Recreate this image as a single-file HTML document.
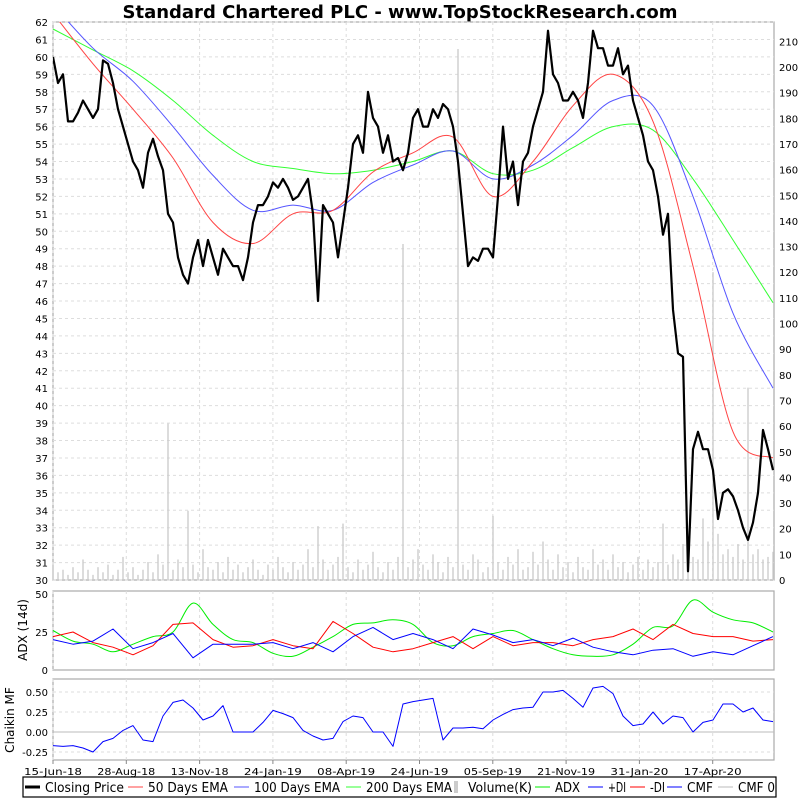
<!DOCTYPE html>
<html><head><meta charset="utf-8"><style>
body{margin:0;background:#fff;}
svg{display:block;font-family:"DejaVu Sans","Liberation Sans",sans-serif;}
</style></head><body>
<svg id="c" width="800" height="800" viewBox="0 0 800 800"></svg>
<script>
const price=[60,58.5,59,56.3,56.3,56.8,57.5,57,56.5,57,59.8,59.6,58.5,57,56,55,54,53.5,52.5,54.5,55.3,54.3,53.5,51,50.5,48.5,47.5,47,48.5,49.5,48,49.5,48.5,47.5,49,48.5,48,48,47.2,48.5,50.5,51.5,51.5,52,52.8,52.5,53,52.5,51.8,52,52.5,53,51,46,51.5,51,50.5,48.5,50.5,52.5,55,55.5,54.5,58,56.5,56,54.5,55.5,54,54.2,53.5,54.5,56.5,57,56,56,57,56.5,57.3,57,56,54,51,48,48.5,48.3,49,49,48.5,52,56,53,54,51.5,54,54.5,56,57,58,61.5,59,58.5,57.5,57.5,58,57.5,56.5,58.5,61.5,60.5,60.5,59.5,59.5,60.5,59,59.5,57.5,56.5,55.5,54,53.5,52,49.8,51,45.5,43,42.8,30.5,37.5,38.5,37.5,37.5,36.3,33.5,35,35.2,34.8,34,33,32.3,33.3,35,38.6,37.5,36.3];
const ema50=[62.5,59.6,57,54.2,50.5,49.3,51,51.2,53.4,54.5,55.4,52,54,57.2,59,56.3,48,38.5,37];
const ema100=[63,60.5,58.6,56,53.2,51.2,51.5,51.2,52.8,53.8,54.6,53,53.8,55.5,57.5,57.2,52,45.3,41];
const ema200=[61.6,60.4,59.2,57.5,55.5,54,53.6,53.3,53.5,54,54.6,53.3,53.5,54.8,56,55.8,53,49.5,45.9];
const volume=[6,3,4,2,5,3,8,4,2,5,3,6,2,4,9,3,5,2,4,7,3,10,6,61,4,8,5,27,6,3,12,5,4,7,3,9,4,6,3,5,8,4,2,6,4,9,5,3,7,4,6,12,5,21,8,4,6,9,22,5,3,8,4,6,11,5,3,7,4,9,131,5,8,12,6,4,10,7,3,9,5,207,6,4,10,8,3,5,25,7,4,9,6,12,4,5,11,6,15,8,4,10,5,7,3,9,5,4,12,6,8,4,10,5,7,3,6,9,4,8,5,7,22,6,10,8,14,12,9,8,24,15,120,18,10,12,9,14,8,75,10,12,8,9,11];
const adx=[26,19,17,12,17,22,25,44,30,20,18,11,9,15,22,30,31,33,30,18,16,22,24,26,20,14,10,9,10,17,28,29,46,38,33,31,25];
const plusDI=[20,17,19,27,14,18,24,8,17,17,17,18,14,18,12,22,28,20,24,20,14,27,23,18,20,16,21,15,12,10,13,14,9,12,10,16,22];
const minusDI=[22,25,18,15,10,16,30,31,20,15,16,20,16,14,32,24,15,12,14,18,22,14,22,16,18,18,16,20,22,27,20,30,24,22,22,19,20];
const cmf=[-0.17,-0.18,-0.17,-0.2,-0.25,-0.12,-0.08,0.02,0.08,-0.1,-0.12,0.2,0.37,0.4,0.3,0.15,0.2,0.33,0,0,0,0.12,0.27,0.23,0.18,0.02,-0.05,-0.1,-0.08,0.13,0.2,0.18,0,0,-0.18,0.35,0.38,0.4,0.42,-0.1,0.05,0.05,0.06,0.04,0.15,0.22,0.28,0.3,0.31,0.5,0.5,0.52,0.42,0.31,0.55,0.57,0.48,0.2,0.08,0.1,0.25,0.1,0.2,0.18,0,0.12,0.15,0.35,0.35,0.25,0.3,0.15,0.13];
const dateLabels=["15-Jun-18","28-Aug-18","13-Nov-18","24-Jan-19","08-Apr-19","24-Jun-19","05-Sep-19","21-Nov-19","31-Jan-20","17-Apr-20"];
const priceTicks=[];for(let v=30;v<=62;v++)priceTicks.push(v);
const volTicks=[];for(let v=0;v<=210;v+=10)volTicks.push(v);
const adxTicks=[0,25,50];
const cmfTicks=[-0.25,0,0.25,0.5];

const NS="http://www.w3.org/2000/svg";const svg=document.getElementById('c');
function el(t,a,p){const e=document.createElementNS(NS,t);for(const k in a)e.setAttribute(k,a[k]);(p||svg).appendChild(e);return e;}
const X0=53,X1=774;
const xIdx=(i,n)=>X0+i*(X1-1-X0)/(n-1);
const yP=v=>22+(62-v)*(558/32);
const yV=v=>580-v*2.565;
const yA=v=>670-v*1.52;
const yC=v=>732-v*80;
let t=el('text',{x:400,y:18,'text-anchor':'middle','font-size':18,'font-weight':'bold',fill:'#000'});t.textContent="Standard Chartered PLC - www.TopStockResearch.com";

function frame(top,bot,name){const g=el('g',{});
 el('rect',{x:X0,y:top,width:X1-X0,height:bot-top,fill:'#fff',stroke:'#aaa','stroke-width':1.2},g);
 dateLabels.forEach((d,i)=>{const x=X0+i*73.3;el('line',{x1:x,x2:x,y1:top,y2:bot,stroke:'#ddd','stroke-dasharray':'3,3'},g);});return g;}
const gm=frame(22,580,'price-panel');
priceTicks.forEach(v=>{const y=yP(v);el('line',{x1:X0,x2:X1,y1:y,y2:y,stroke:'#ddd','stroke-dasharray':'3,3'},gm);
 const tx=el('text',{x:48,y:y+4,'text-anchor':'end','font-size':10},gm);tx.textContent=v;});
volTicks.forEach(v=>{const tx=el('text',{x:779,y:yV(v)+4,'font-size':10},gm);tx.textContent=v;});
const gv=el('g',{});
volume.forEach((v,i)=>{const x=xIdx(i,volume.length);const r=el('rect',{x:x-0.7,y:yV(v),width:1.4,height:580-yV(v),fill:'#ccc'},gv);
 
 });
function line(arr,xf,yf,col,w,name,g,smooth){
 const pts=arr.map((v,i)=>[xf(i,arr.length),yf(v)]);
 let d='M'+pts[0][0].toFixed(1)+','+pts[0][1].toFixed(1);
 for(let i=1;i<pts.length;i++){
  if(smooth){const p0=pts[Math.max(0,i-2)],p1=pts[i-1],p2=pts[i],p3=pts[Math.min(pts.length-1,i+1)];
   const c1=[p1[0]+(p2[0]-p0[0])/6,p1[1]+(p2[1]-p0[1])/6],c2=[p2[0]-(p3[0]-p1[0])/6,p2[1]-(p3[1]-p1[1])/6];
   d+='C'+c1.map(n=>n.toFixed(1)).join(',')+' '+c2.map(n=>n.toFixed(1)).join(',')+' '+p2[0].toFixed(1)+','+p2[1].toFixed(1);}
  else d+='L'+pts[i][0].toFixed(1)+','+pts[i][1].toFixed(1);}
 const p=el('path',{d:d,fill:'none',stroke:col,'stroke-width':w,'stroke-linejoin':'round'},g);return p;}
const cp=el('clipPath',{id:'cm'});el('rect',{x:X0,y:22,width:X1-X0,height:558},cp);
const gl=el('g',{'clip-path':'url(#cm)'});
line(ema200,xIdx,yP,'#3f3',1,'ema-200-line',gl,true);
line(ema100,xIdx,yP,'#55f',1,'ema-100-line',gl,true);
line(ema50,xIdx,yP,'#f44',1,'ema-50-line',gl,true);
line(price,xIdx,yP,'#000',2.2,'closing-price-line',gl);
const ga=frame(591,670,'adx-panel');
adxTicks.forEach(v=>{const tx=el('text',{x:48,y:yA(v)+4,'text-anchor':'end','font-size':10},ga);tx.textContent=v;});
line(adx,xIdx,yA,'#0e0',1,'adx-line',ga,true);
line(minusDI,xIdx,yA,'#f00',1,'minus-di-line',ga);
line(plusDI,xIdx,yA,'#00f',1,'plus-di-line',ga);
let yl=el('text',{x:0,y:0,'font-size':12,'text-anchor':'middle',transform:'translate(27,630) rotate(-90)'});yl.textContent="ADX (14d)";

const gc=frame(679,760,'cmf-panel');
cmfTicks.forEach(v=>{const y=yC(v);el('line',{x1:X0,x2:X1,y1:y,y2:y,stroke:v===0?'#bbb':'#ddd','stroke-dasharray':v===0?'':'3,3'},gc);
 const tx=el('text',{x:48,y:y+4,'text-anchor':'end','font-size':10},gc);tx.textContent=v.toFixed(2);});
line(cmf,xIdx,yC,'#00f',1,'cmf-line',gc);
yl=el('text',{x:0,y:0,'font-size':12,'text-anchor':'middle',transform:'translate(14,720) rotate(-90)'});yl.textContent="Chaikin MF";

dateLabels.forEach((d,i)=>{const x=X0+i*73.3;el('line',{x1:x,x2:x,y1:760,y2:764,stroke:'#888'});
 const tx=el('text',{x:x,y:775,'text-anchor':'middle','font-size':10,textLength:58,lengthAdjust:'spacingAndGlyphs'});tx.textContent=d;
 });
const lg=el('g',{});
el('rect',{x:23,y:777,width:753,height:20,fill:'#fff',stroke:'#000','stroke-width':1.2},lg);
const items=[["Closing Price",45,79,'#000',3,'line'],["50 Days EMA",148,80,'#f44',1,'line'],["100 Days EMA",254,86,'#55f',1,'line'],["200 Days EMA",366,86,'#3f3',1,'line'],["Volume(K)",468,64,'#ccc',0,'sq'],["ADX",555,25,'#0e0',1,'line'],["+DI",608,18,'#00f',1,'line'],["-DI",650,15,'#f00',1,'line'],["CMF",687,26,'#00f',1,'line'],["CMF 0",738,37,'#bbb',1,'line']];
items.forEach(it=>{const g=el('g',{},lg);
 if(it[5]==='sq')el('rect',{x:it[1]-14,y:781,width:4,height:12,fill:it[3]},g);
 else el('line',{x1:it[1]-20,x2:it[1]-5,y1:787,y2:787,stroke:it[3],'stroke-width':it[4]},g);
 const tx=el('text',{x:it[1],y:792,'font-size':13,textLength:it[2],lengthAdjust:'spacingAndGlyphs'},g);tx.textContent=it[0];});
</script>
</body></html>
